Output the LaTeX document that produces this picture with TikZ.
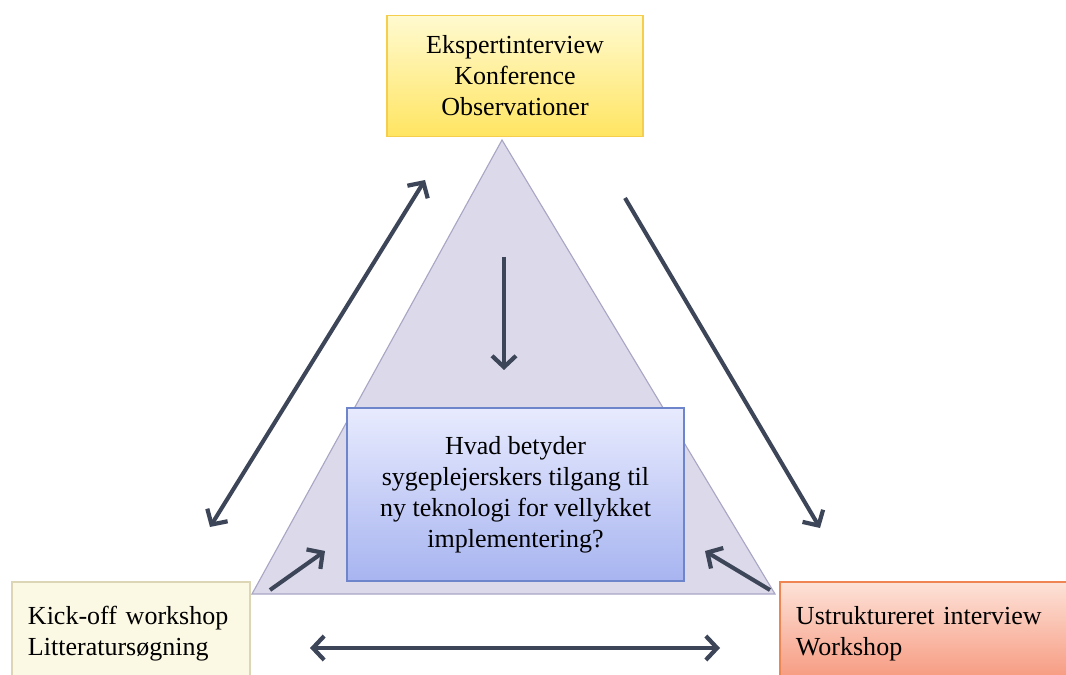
\documentclass[tikz,border=0pt]{standalone}
\usepackage{fontspec}
\setmainfont{Liberation Serif}
\usepackage{tikz}
\usetikzlibrary{arrows.meta}

\definecolor{arrowc}{HTML}{3D4659}
\definecolor{trifill}{HTML}{DCDAEA}
\definecolor{triline}{HTML}{A8A6C4}
\definecolor{yelltop}{HTML}{FFFAD0}
\definecolor{yellbot}{HTML}{FFE562}
\definecolor{yellline}{HTML}{F4CE4C}
\definecolor{bluetop}{HTML}{E8EBFE}
\definecolor{bluebot}{HTML}{A7B4F0}
\definecolor{blueline}{HTML}{6E85CC}
\definecolor{creamfill}{HTML}{FBF8E4}
\definecolor{creamline}{HTML}{DCD6B6}
\definecolor{redtop}{HTML}{FDE2D8}
\definecolor{redbot}{HTML}{F6957A}
\definecolor{redline}{HTML}{EE8552}

\begin{document}
\begin{tikzpicture}[x=0.025cm, y=-0.025cm,
	font=\fontsize{18.5}{22}\selectfont,
	>={Straight Barb[length=8pt, width=17pt, line width=3pt]},
	box/.style={draw, line width=0.8pt, inner sep=0pt},
	corner/.style={box, align=left, inner xsep=0.4cm},
	arr/.style={draw=arrowc, line width=2.9pt}]
\useasboundingbox (0,0) rectangle (1066,675);
\clip (0,0) rectangle (1066,675);

\draw[fill=trifill, draw=triline, line width=0.8pt] (502,140) -- (775,594) -- (252,594) -- cycle;

\node[box, draw=yellline, top color=yelltop, bottom color=yellbot, align=center,
	minimum width=6.4cm, minimum height=3.025cm] (expert) at (515,76)
	{Ekspertinterview\\Konference\\Observationer};
\node[box, draw=blueline, top color=bluetop, bottom color=bluebot, align=center,
	minimum width=8.425cm, minimum height=4.325cm] (question) at (515.5,494.5)
	{Hvad betyder\\sygeplejerskers tilgang til\\ny teknologi for vellykket\\implementering?};
\node[corner, draw=creamline, fill=creamfill, text width=5.15cm,
	minimum height=2.6cm] (kickoff) at (131,634)
	{Kick-off workshop\\Litteraturs\o gning};
\node[corner, draw=redline, top color=redtop, bottom color=redbot, text width=6.575cm,
	minimum height=2.6cm] (ustrukt) at (927.5,634)
	{Ustruktureret interview\\Workshop};

\coordinate (ltop) at (425,180);
\coordinate (lbot) at (210,527);
\coordinate (rtop) at (625,198);
\coordinate (rbot) at (820,528);
\coordinate (vtop) at (504,257);
\coordinate (vbot) at (504,370);
\coordinate (sl1) at (270,590);
\coordinate (sl2) at (325,551);
\coordinate (sr1) at (770,590);
\coordinate (sr2) at (705,551);
\coordinate (hl) at (310,648);
\coordinate (hr) at (720,648);

\path[arr, <->] (lbot) -- (ltop);
\path[arr, ->] (rtop) -- (rbot);
\path[arr, ->] (vtop) -- (vbot);
\path[arr, ->] (sl1) -- (sl2);
\path[arr, ->] (sr1) -- (sr2);
\path[arr, <->] (hl) -- (hr);
\end{tikzpicture}
\end{document}
